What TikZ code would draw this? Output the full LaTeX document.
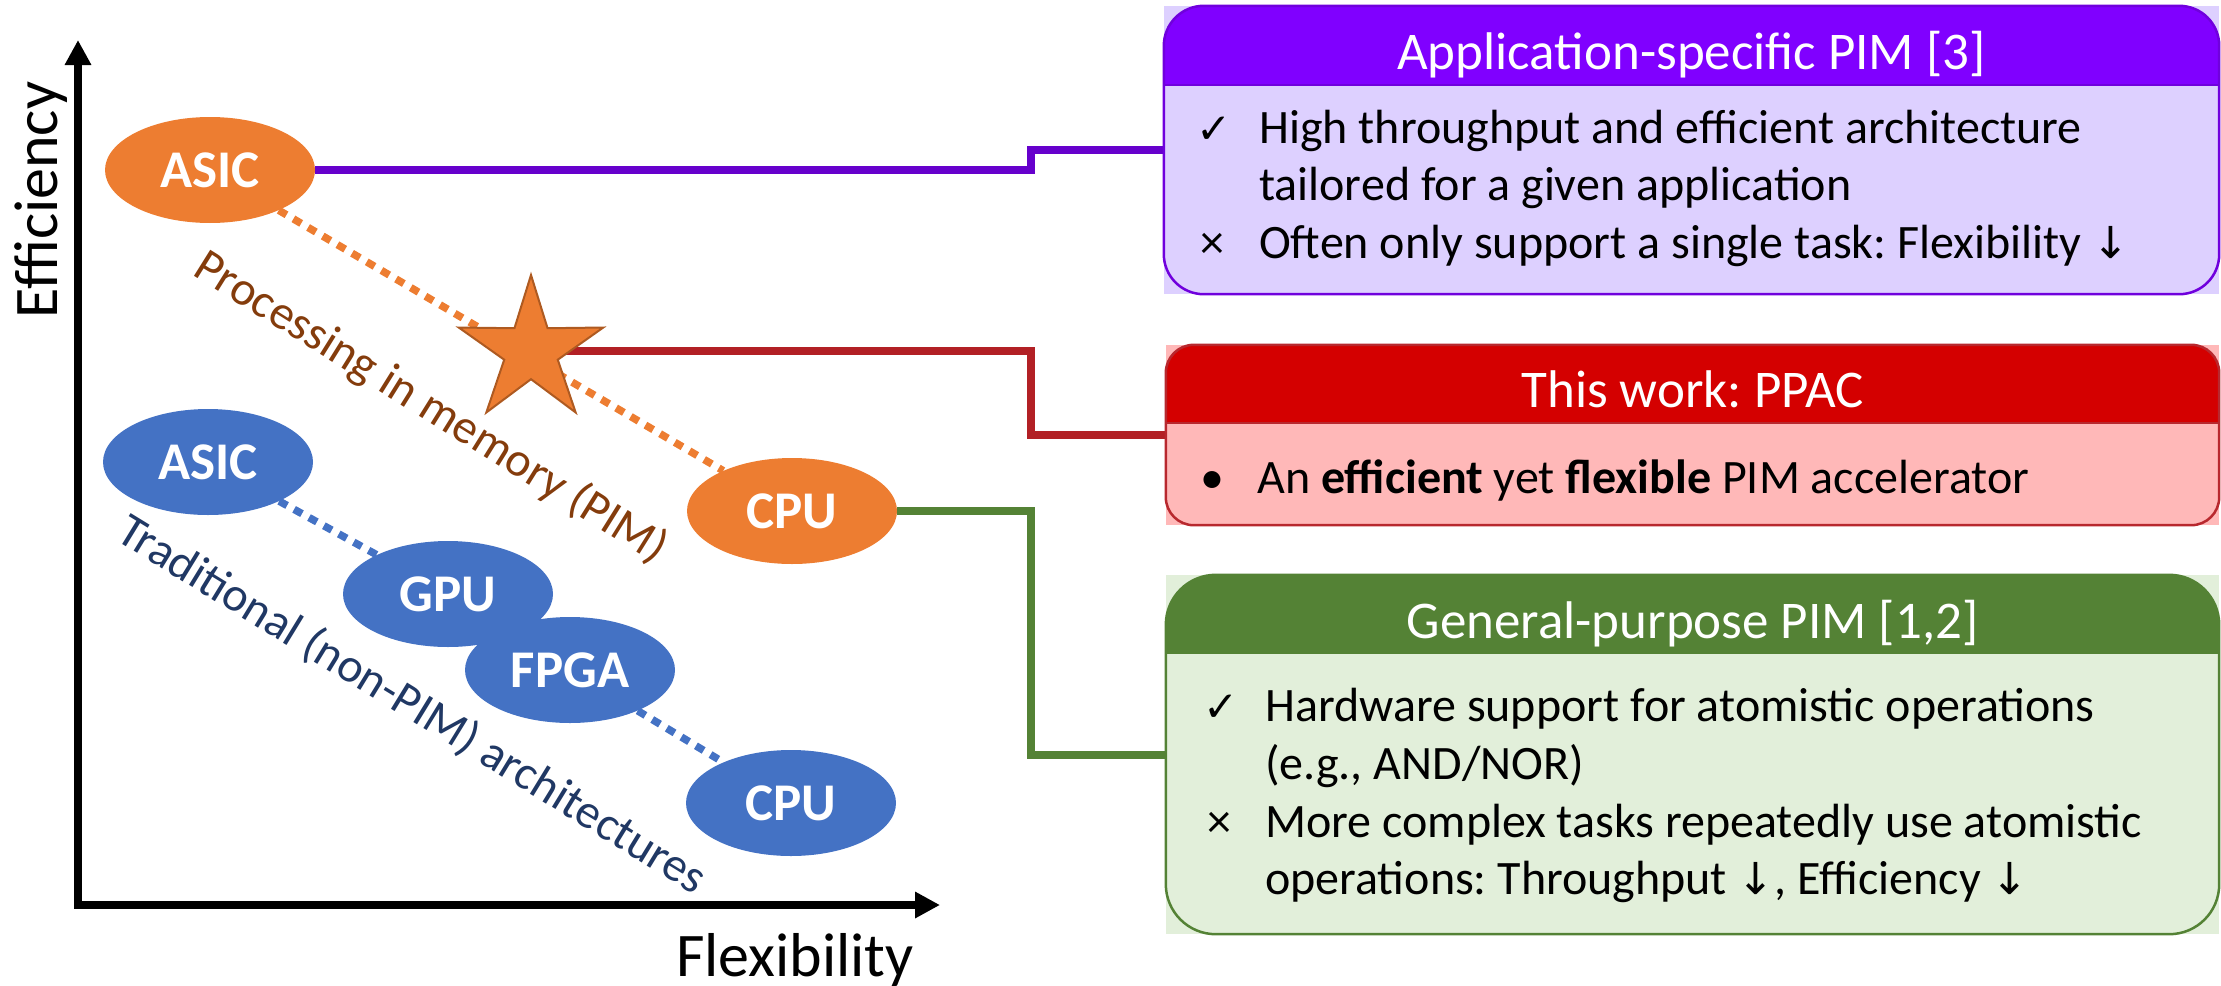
\documentclass[tikz,border=0pt]{standalone}
\usepackage{fontspec}
\setmainfont{Carlito}
\newfontfamily\symfont{DejaVu Sans}
\usetikzlibrary{shapes.geometric,arrows.meta,backgrounds}
\frenchspacing

\definecolor{pimorange}{HTML}{ED7D31}
\definecolor{stardark}{HTML}{AE5A21}
\definecolor{tradblue}{HTML}{4472C4}
\definecolor{pimbrown}{HTML}{843C0C}
\definecolor{tradnavy}{HTML}{203864}
\definecolor{asplink}{HTML}{6600CC}
\definecolor{asphead}{HTML}{8000FF}
\definecolor{aspbody}{HTML}{DDD0FF}
\definecolor{aspedge}{HTML}{7000DD}
\definecolor{ppaclink}{HTML}{B22025}
\definecolor{ppachead}{HTML}{D40000}
\definecolor{ppacbody}{HTML}{FFB8B8}
\definecolor{ppacedge}{HTML}{B8282E}
\definecolor{gplink}{HTML}{548235}
\definecolor{gphead}{HTML}{548235}
\definecolor{gpbody}{HTML}{E2EFDA}

\newcommand{\downarr}{{\symfont\fontsize{44}{50}\selectfont ↓}}
\newcommand{\okmark}{{\symfont\fontsize{42}{50}\selectfont ✓}}

\begin{document}
\begin{tikzpicture}[x=1pt,y=-1pt,
  chip/.style={ellipse, minimum width=210, minimum height=106, inner sep=0,
    text=white, font=\fontsize{53}{60}\selectfont\bfseries},
  pimdots/.style={draw=pimorange, line width=7.5, dash pattern=on 9pt off 8pt},
  tradots/.style={draw=tradblue, line width=7.5, dash pattern=on 9pt off 8pt},
  link/.style={line width=8},
  axisline/.style={line width=8,
    {Triangle[length=25pt,width=25pt]}-{Triangle[length=25pt,width=25pt]}},
  axlabel/.style={inner sep=0, font=\fontsize{62}{70}\selectfont},
  rotlabel/.style={inner sep=0, font=\fontsize{48}{56}\selectfont},
  panel/.style={inner sep=0, minimum width=1053},
  hdrtext/.style={inner sep=0, text=white, anchor=base,
    font=\fontsize{53}{62}\selectfont},
  bodytext/.style={inner sep=0, anchor=base west,
    font=\fontsize{48}{58}\selectfont},
  glyph/.style={inner sep=0, anchor=base west,
    font=\fontsize{48}{58}\selectfont},
  edge/.style={line width=2.5}
]
\useasboundingbox (0,0) rectangle (2221,985);

% ---- axes ----
\coordinate (origin) at (78,905);
\coordinate (ytip) at (78,40);
\coordinate (xtip) at (940,905);
\draw[axisline] (ytip) -- (origin) -- (xtip);
\node[axlabel, rotate=90, anchor=base] (ylab) at (57,200) {Efficiency};
\node[axlabel, anchor=base] (xlab) at (795,976) {Flexibility};

% ---- architectures ----
\node[chip, fill=pimorange] (asicO) at (210,170) {ASIC};
\node[chip, fill=pimorange] (cpuO) at (792,511) {CPU};
\node[chip, fill=tradblue] (asicB) at (208,462) {ASIC};
\node[chip, fill=tradblue] (gpu) at (448,594) {GPU};
\node[chip, fill=tradblue] (fpga) at (570,670) {FPGA};
\node[chip, fill=tradblue] (cpuB) at (791,803) {CPU};
\node[star, star points=5, star point ratio=2.7, minimum size=152, inner sep=0,
  fill=pimorange, draw=stardark, line width=2] (ppac) at (531,351) {};

\node[rotlabel, text=pimbrown, rotate=-32] (pimlab) at (431,408)
  {Processing in memory (PIM)};
\node[rotlabel, text=tradnavy, rotate=-31.5] (tradlab) at (412,705)
  {Traditional (non-PIM) architectures};

% ---- panels ----
\node[panel, fill=aspbody, minimum width=1055, minimum height=288] (box1) at (1691.5,150) {};
\node[panel, fill=ppacbody, minimum height=180] (box2) at (1692.5,435) {};
\node[panel, fill=gpbody, minimum height=359] (box3) at (1692.5,754.5) {};

\coordinate (hdr1) at (0,85);
\coordinate (hdr2) at (0,423);
\coordinate (hdr3) at (0,654);

\begin{scope}
  \clip[rounded corners=40] (box1.north west) rectangle (box1.south east);
  \fill[asphead] (box1.north west) rectangle (box1.east |- hdr1);
\end{scope}
\draw[edge, aspedge] (box1.west |- hdr1) -- (box1.east |- hdr1);
\draw[edge, aspedge, rounded corners=40] (box1.north west) rectangle (box1.south east);

\begin{scope}
  \clip[rounded corners=28] (box2.north west) rectangle (box2.south east);
  \fill[ppachead] (box2.north west) rectangle (box2.east |- hdr2);
\end{scope}
\draw[edge, ppacedge] (box2.west |- hdr2) -- (box2.east |- hdr2);
\draw[edge, ppacedge, rounded corners=28] (box2.north west) rectangle (box2.south east);

\begin{scope}
  \clip[rounded corners=50] (box3.north west) rectangle (box3.south east);
  \fill[gphead] (box3.north west) rectangle (box3.east |- hdr3);
\end{scope}
\draw[edge, gphead, rounded corners=50] (box3.north west) rectangle (box3.south east);

% panel texts
\node[hdrtext] (h1) at (1691.5,69) {Application-specific PIM [3]};
\node[glyph] (c11) at (1196,143) {\okmark};
\node[bodytext] (l11) at (1259,143) {High throughput and efficient architecture};
\node[bodytext] (l12) at (1259,200) {tailored for a given application};
\node[glyph] (c12) at (1200,258) {×};
\node[bodytext] (l13) at (1259,258) {Often only support a single task: Flexibility \downarr};

\node[hdrtext] (h2) at (1692.5,407) {This work: PPAC};
\node[glyph] (c21) at (1200,493) {•};
\node[bodytext] (l21) at (1257,493) {An \textbf{efficient} yet \textbf{flexible} PIM accelerator};

\node[hdrtext] (h3) at (1692.5,638) {General-purpose PIM [1,2]};
\node[glyph] (c31) at (1203,721) {\okmark};
\node[bodytext] (l31) at (1265,721) {Hardware support for atomistic operations};
\node[bodytext] (l32) at (1265,779) {(e.g., AND/NOR)};
\node[glyph] (c32) at (1207,837) {×};
\node[bodytext] (l33) at (1265,837) {More complex tasks repeatedly use atomistic};
\node[bodytext] (l34) at (1265,894) {operations: Throughput \downarr, Efficiency \downarr};

% ---- connectors ----
\coordinate (bus) at (1031,0);
\begin{pgfonlayer}{background}
  \draw[pimdots] (asicO) -- (cpuO);
  \draw[tradots] (asicB) -- (gpu);
  \draw[tradots] (fpga) -- (cpuB);
  \draw[link, asplink] (asicO.east) -| (bus |- box1.west) -- (box1.west);
  \draw[link, ppaclink] (ppac.center) -| (bus |- box2.west) -- (box2.west);
  \draw[link, gplink] (cpuO.east) -| (bus |- box3.west) -- (box3.west);
\end{pgfonlayer}
\end{tikzpicture}
\end{document}
